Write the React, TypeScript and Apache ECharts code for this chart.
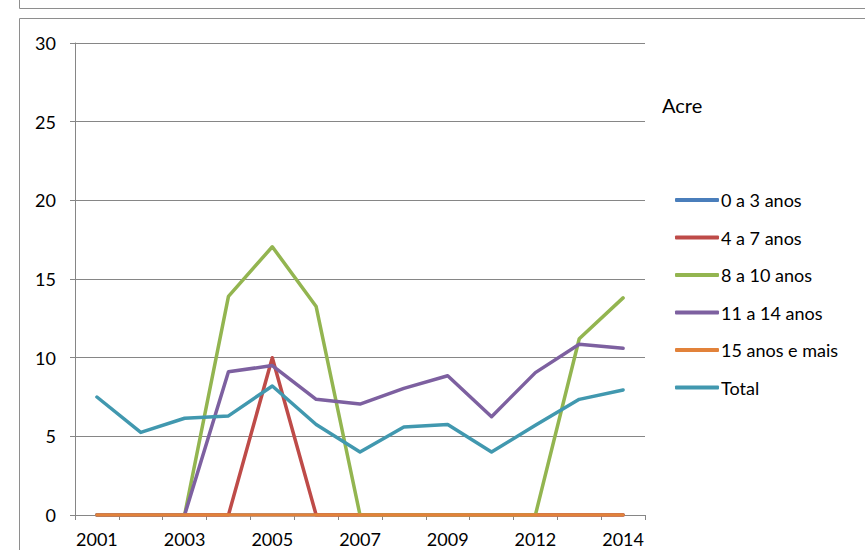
import React, { useEffect, useRef } from "react";
import * as echarts from "echarts";

const categories = ["2001", "2002", "2003", "2004", "2005", "2006", "2007", "2008", "2009", "2011", "2012", "2013", "2014"];
const seriesNames = ["0 a 3 anos", "4 a 7 anos", "8 a 10 anos", "11 a 14 anos", "15 anos e mais", "Total"];
const a0to3 = [0, 0, 0, 0, 0, 0, 0, 0, 0, 0, 0, 0, 0];
const a4to7 = [0, 0, 0, 0, 10, 0, 0, 0, 0, 0, 0, 0, 0];
const a8to10 = [0, 0, 0, 13.9, 17.05, 13.25, 0, 0, 0, 0, 0, 11.2, 13.8];
const a11to14 = [0, 0, 0, 9.1, 9.5, 7.35, 7.05, 8.05, 8.85, 6.25, 9.05, 10.85, 10.6];
const a15plus = [0, 0, 0, 0, 0, 0, 0, 0, 0, 0, 0, 0, 0];
const total = [7.5, 5.25, 6.15, 6.3, 8.2, 5.75, 4.0, 5.6, 5.75, 4.0, 5.7, 7.35, 7.95];
const colors = ["#4A7EBB", "#BE4B48", "#93B550", "#7D60A0", "#E2823A", "#4198AF"];
const chartTitle = "Acre";

export default function App() {
  const ref = useRef<HTMLDivElement>(null);
  useEffect(() => {
    if (!ref.current) return;
    const chart = echarts.init(ref.current, null, { renderer: "svg" });
    const font = "Lato";
    const dataSets = [a0to3, a4to7, a8to10, a11to14, a15plus, total];
    chart.setOption({
      animation: false,
      backgroundColor: "#fff",
      textStyle: { fontFamily: font },
      title: {
        text: chartTitle,
        left: 662,
        top: 95,
        padding: 0,
        textStyle: { fontFamily: font, fontSize: 20, fontWeight: "normal", color: "#000" },
      },
      legend: {
        orient: "vertical",
        left: 675,
        top: 190,
        padding: 0,
        itemWidth: 44,
        itemHeight: 4,
        itemGap: 17.5,
        icon: "roundRect",
        data: seriesNames,
        textStyle: { fontFamily: font, fontSize: 18, color: "#000", lineHeight: 20, padding: [0, 0, 0, -3] },
      },
      graphic: [
        {
          type: "rect",
          shape: { x: 19.5, y: -20, width: 900, height: 28.5 },
          style: { fill: "none", stroke: "#8E8E8E", lineWidth: 1 },
          silent: true,
        },
        {
          type: "rect",
          shape: { x: 19.5, y: 18.5, width: 900, height: 600 },
          style: { fill: "none", stroke: "#8E8E8E", lineWidth: 1 },
          silent: true,
        },
      ],
      grid: { left: 75, right: 220, top: 43, bottom: 35, containLabel: false },
      xAxis: {
        type: "category",
        data: categories,
        boundaryGap: true,
        axisLine: { show: true, lineStyle: { color: "#868686", width: 1 } },
        axisTick: { show: true, interval: 0, length: 5, lineStyle: { color: "#868686" } },
        axisLabel: { interval: 1, fontFamily: font, fontSize: 18, color: "#000", margin: 15 },
        splitLine: { show: false },
      },
      yAxis: {
        type: "value",
        min: 0,
        max: 30,
        interval: 5,
        axisLine: { show: true, lineStyle: { color: "#868686", width: 1 } },
        axisTick: { show: true, length: 5, lineStyle: { color: "#868686" } },
        axisLabel: { fontFamily: font, fontSize: 18, color: "#000", margin: 19 },
        splitLine: { show: true, lineStyle: { color: "#868686", width: 1 } },
      },
      series: seriesNames.map((name, i) => ({
        name,
        type: "line",
        data: dataSets[i],
        symbol: "none",
        smooth: false,
        color: colors[i],
        lineStyle: { color: colors[i], width: 3.5, cap: "round", join: "round" },
        itemStyle: { color: colors[i] },
        z: 2 + i,
      })),
    });
    return () => chart.dispose();
  }, []);
  return (
    <div
      ref={ref}
      style={{ position: "fixed", left: 0, top: 0, width: 865, height: 550 }}
    />
  );
}
